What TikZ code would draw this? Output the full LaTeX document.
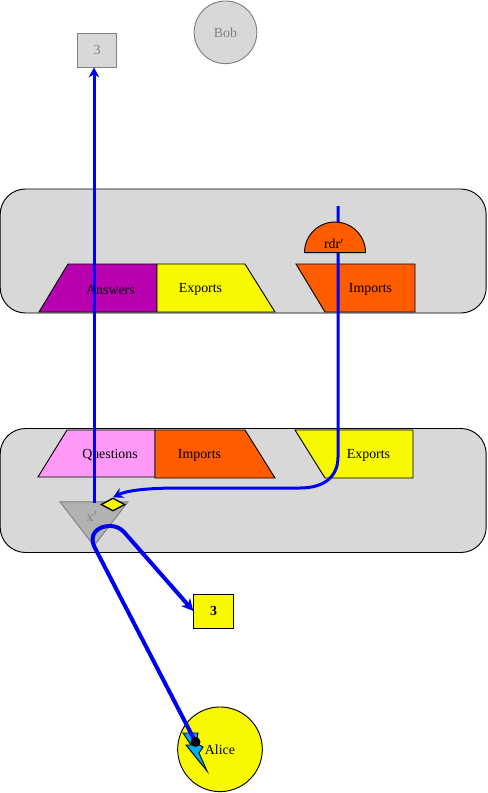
\documentclass[tikz,border=0pt]{standalone}
\usepackage{fontspec}
\setmainfont{Liberation Serif}
\usetikzlibrary{shapes.geometric,arrows.meta,positioning}
\definecolor{panelgray}{HTML}{D8D8D8}
\definecolor{tipyellow}{HTML}{F8F800}
\definecolor{tiporange}{HTML}{FF5C00}
\definecolor{tippurple}{HTML}{B800B0}
\definecolor{tippink}{HTML}{FF99F8}
\definecolor{flowblue}{HTML}{0000F0}
\begin{document}
\begin{tikzpicture}[
  x=0.75pt, y=-0.75pt,
  line width=0.7pt,
  font=\fontsize{10.4}{11}\selectfont,
  panel/.style={rectangle, draw, fill=panelgray, rounded corners=19pt, minimum width=364.5pt, minimum height=93pt},
  tile/.style={draw},
  token/.style={rectangle, draw, minimum width=29.5pt, minimum height=25.5pt, inner sep=0pt},
  agent/.style={circle, draw, inner sep=0pt},
  ghost/.style={draw=gray, fill=panelgray, text=gray},
  flow/.style={draw=flowblue, line width=2.25pt, -{Stealth[length=7.5pt,width=8pt]}},
  heavyflow/.style={draw=flowblue, line width=3pt, -{Stealth[length=9pt,width=9pt]}}
]
  \useasboundingbox (0,0) rectangle (487,793);
  % Agents and tokens
  \node[agent, ghost, minimum size=47pt] (bob) at (225.5,32.3) {Bob};
  \node[token, ghost] (tokenout) at (97,50) {3};
  \node[token, fill=tipyellow] (tokenin) at (213.5,611) {\textbf{3}};
  \node[agent, fill=tipyellow, minimum size=63.5pt] (alice) at (220,749.3) {Alice};
  % Panels
  \node[panel] (bobpanel) at (243.2,251) {};
  \node[panel] (alicepanel) at (243.2,490.5) {};
  % Bob's tiles
  \draw[tile, fill=tippurple] (39,312) -- (68,264) -- (157,264) -- (157,312) -- cycle;
  \draw[tile, fill=tipyellow] (157,264) -- (245,264) -- (275,312) -- (157,312) -- cycle;
  \draw[tile, fill=tiporange] (296,264) -- (415,264) -- (415,312) -- (325,312) -- cycle;
  \node (answers) at (110.5,290) {Answers};
  \node (bobexports) at (200.5,289.5) {Exports};
  \node (bobimports) at (370.5,289.5) {Imports};
  % Alice's tiles
  \draw[tile, fill=tippink] (38,477) -- (67,430) -- (155,430) -- (155,477) -- cycle;
  \draw[tile, fill=tiporange] (155,430) -- (245,430) -- (275,478) -- (155,478) -- cycle;
  \draw[tile, fill=tipyellow] (295,430) -- (413,430) -- (413,478) -- (325,478) -- cycle;
  \node (questions) at (110,455) {Questions};
  \node (aliceimports) at (199.5,455) {Imports};
  \node (aliceexports) at (368.5,455) {Exports};
  % Gate and key
  \node[isosceles triangle, isosceles triangle stretches=true, shape border rotate=-90, draw=gray, fill=gray!60, minimum width=51pt, minimum height=33pt, inner sep=0pt, anchor=apex] (gate) at (94,547) {};
  \node[text=gray] (gatename) at (92,516) {x$'$};
  \node[diamond, draw, fill=tipyellow, line width=1pt, minimum width=18pt, minimum height=9.75pt, inner sep=0pt] (gatekey) at (113,504.5) {};
  % Lightning
  \draw[fill=cyan] (183,733) -- (198,733) -- (196,743) -- (203,747) -- (199,753) -- (207,771) -- (186,745) -- (191,745) -- cycle;
  \coordinate (sparkpoint) at (195.5,742);
  % Connectors
  \coordinate (bobwire) at (338,206);
  \coordinate (gatetop) at (94,503);
  \draw[flow] (bobwire) -- (338,457) .. controls (338,476) and (325,488) .. (300,488) -- (180,488) .. controls (150,488) and (128,490) .. (gatekey.north);
  \node[semicircle, draw, fill=tiporange, minimum width=45.75pt, inner sep=0pt, anchor=chord center] (rdr) at (335,253) {};
  \node (rdrname) at (334,244) {rdr$'$};
  \draw[flow] (gatetop) -- (gatetop |- tokenout.south);
  \draw[heavyflow] (sparkpoint) -- (95,548) .. controls (88,535) and (97,526) .. (110,526) .. controls (116,526) and (120,528) .. (124,532) -- (tokenin.west);
  \node[circle, fill=black, minimum size=7.5pt, inner sep=0pt] (spark) at (sparkpoint) {};
\end{tikzpicture}
\end{document}
